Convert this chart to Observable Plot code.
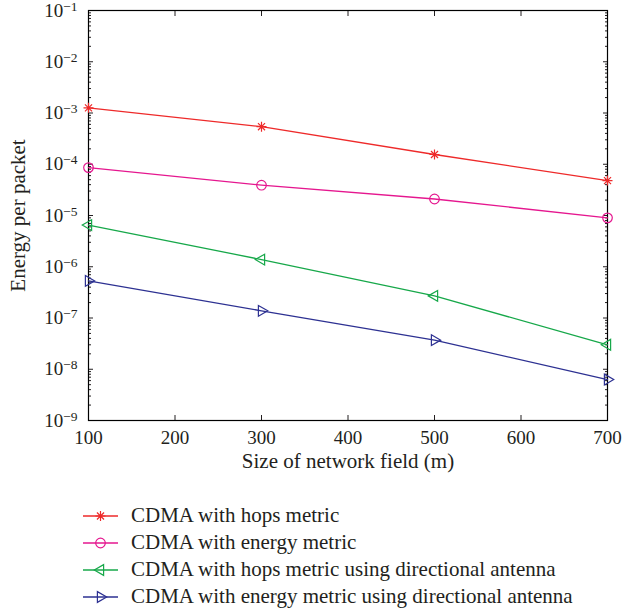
<!DOCTYPE html>
<html>
<head>
<meta charset="utf-8">
<script src="https://cdn.jsdelivr.net/npm/d3@7"></script>
<script src="https://cdn.jsdelivr.net/npm/@observablehq/plot@0.6"></script>
<style>
  body { margin: 0; background: #fff; font-family: "Liberation Serif", "DejaVu Serif", serif; color: #231f20; }
  #legend { padding-top: 14px; padding-left: 83px; }
  .item { display: flex; align-items: center; height: 27px; font-size: 21px; }
  .item svg { margin-right: 13px; overflow: visible; }
</style>
</head>
<body>
<div id="chart"></div>
<div id="legend"></div>
<script>
// Network field size (m)
const fieldSizes = [100, 300, 500, 700];

// Energy per packet for each routing scheme
const hopsMetric        = [1.26e-3, 5.4e-4, 1.55e-4, 4.8e-5];
const energyMetric      = [8.6e-5, 3.9e-5, 2.1e-5, 9.0e-6];
const hopsDirectional   = [6.5e-6, 1.38e-6, 2.7e-7, 3.0e-8];
const energyDirectional = [5.3e-7, 1.38e-7, 3.7e-8, 6.3e-9];

const seriesNames = [
  "CDMA with hops metric",
  "CDMA with energy metric",
  "CDMA with hops metric using directional antenna",
  "CDMA with energy metric using directional antenna"
];
const seriesColors = ["#ee2a2a", "#e5178f", "#17a84a", "#2d3192"];

const xTicks = [100, 200, 300, 400, 500, 600, 700];
const yExponents = [-9, -8, -7, -6, -5, -4, -3, -2, -1];

// 8-armed asterisk marker
const asterisk8 = {
  draw(ctx, size) {
    const r = Math.sqrt(size / Math.PI);
    for (let i = 0; i < 4; ++i) {
      const a = i * Math.PI / 4;
      ctx.moveTo(-r * Math.cos(a), -r * Math.sin(a));
      ctx.lineTo(r * Math.cos(a), r * Math.sin(a));
    }
  }
};

const markers = [
  {symbol: asterisk8, r: 5, rotate: 0},
  {symbol: "circle", r: 4.8, rotate: 0},
  {symbol: "triangle", r: 4, rotate: -90},
  {symbol: "triangle", r: 4, rotate: 90}
];

const seriesValues = [hopsMetric, energyMetric, hopsDirectional, energyDirectional];
const rows = seriesValues.map((vals, i) =>
  fieldSizes.map((x, j) => ({series: seriesNames[i], x, y: vals[j]}))
);

const majorY = yExponents.map(e => Math.pow(10, e));
const minorY = [];
for (const e of yExponents.slice(0, -1)) {
  for (let m = 2; m <= 9; ++m) minorY.push(m * Math.pow(10, e));
}

const chart = Plot.plot({
  width: 624,
  height: 488,
  marginLeft: 88,
  marginRight: 17,
  marginTop: 10,
  marginBottom: 68,
  style: {fontFamily: "'Liberation Serif', serif", fontSize: "19px", color: "#231f20", background: "#fff"},
  x: {domain: [100, 700]},
  y: {type: "log", domain: [1e-9, 1e-1]},
  marks: [
    // tick labels
    Plot.axisX({ticks: xTicks, tickSize: 0, tickPadding: 10, tickFormat: d => String(d), label: null}),
    Plot.axisY({ticks: majorY, tickSize: 0, tickPadding: 11, tickFormat: d => String(Math.round(Math.log10(d))), label: null}),
    // inward tick marks on all four sides
    Plot.axisX({ticks: xTicks, anchor: "bottom", tickSize: -5, tickFormat: () => "", label: null}),
    Plot.axisX({ticks: xTicks, anchor: "top", tickSize: -5, tickFormat: () => "", label: null}),
    Plot.axisY({ticks: majorY, anchor: "left", tickSize: -5, tickFormat: () => "", label: null}),
    Plot.axisY({ticks: majorY, anchor: "right", tickSize: -5, tickFormat: () => "", label: null}),
    Plot.axisY({ticks: minorY, anchor: "left", tickSize: -3, tickFormat: () => "", label: null}),
    Plot.axisY({ticks: minorY, anchor: "right", tickSize: -3, tickFormat: () => "", label: null}),
    Plot.frame({stroke: "#000", strokeWidth: 1.2}),
    // series lines and markers
    ...rows.map((r, i) => Plot.line(r, {x: "x", y: "y", stroke: seriesColors[i], strokeWidth: 1.3})),
    ...rows.map((r, i) => Plot.dot(r, {
      x: "x", y: "y", stroke: seriesColors[i], fill: "none", strokeWidth: 1.2,
      symbol: markers[i].symbol, r: markers[i].r, rotate: markers[i].rotate
    })),
    // axis titles
    Plot.text(["Size of network field (m)"], {frameAnchor: "bottom", dy: 47, fontSize: 21, fill: "#231f20"}),
    Plot.text(["Energy per packet"], {frameAnchor: "left", textAnchor: "middle", dx: -70, rotate: -90, fontSize: 21, fill: "#231f20"})
  ]
});

// render y tick labels as powers of ten
d3.select(chart).selectAll("g[aria-label='y-axis tick label'] text").each(function () {
  const t = d3.select(this);
  const exp = t.text();
  if (exp === "") return;
  t.text(null);
  t.append("tspan").text("10");
  t.append("tspan").attr("dy", "-6").attr("font-size", "13.5px").text("\u2212" + exp.replace("-", ""));
});

document.getElementById("chart").appendChild(chart);

// legend
const legend = d3.select("#legend");
seriesNames.forEach((name, i) => {
  const item = legend.append("div").attr("class", "item");
  const svg = item.append("svg").attr("width", 35).attr("height", 20);
  svg.append("line").attr("x1", 0).attr("x2", 35).attr("y1", 10).attr("y2", 10)
    .attr("stroke", seriesColors[i]).attr("stroke-width", 1.3);
  const m = markers[i];
  const sym = typeof m.symbol === "string" ? (m.symbol === "circle" ? d3.symbolCircle : d3.symbolTriangle) : m.symbol;
  svg.append("path").attr("d", d3.symbol(sym, m.r * m.r * Math.PI)())
    .attr("transform", `translate(17.5,10) rotate(${m.rotate})`)
    .attr("fill", "none").attr("stroke", seriesColors[i]).attr("stroke-width", 1.2);
  item.append("span").text(name);
});
</script>
</body>
</html>
